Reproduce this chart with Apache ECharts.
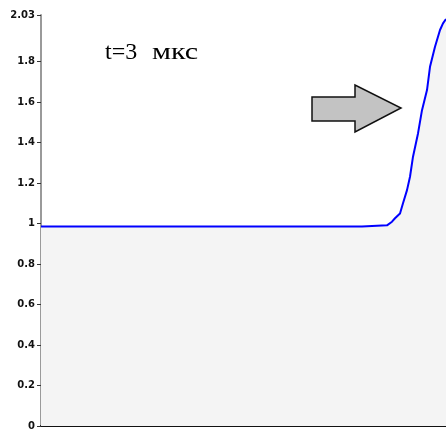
<!DOCTYPE html>
<html>
<head>
<meta charset="utf-8">
<script src="https://cdn.jsdelivr.net/npm/echarts@6/dist/echarts.min.js"></script>
<style>
  html, body { margin: 0; padding: 0; background: #fff; }
  #chart { width: 446px; height: 435px; }
</style>
</head>
<body>
<div id="chart"></div>
<script>
// Profile position (arbitrary units along the axis) and normalised amplitude
const positions = [0, 32.1, 32.3, 34.6, 35.1, 35.4, 35.9, 36.2, 36.6, 36.9, 37.2, 37.7, 38.1, 38.6, 38.9, 39.4, 39.9, 40.2, 40.5];
const amplitude = [0.985, 0.985, 0.991, 0.991, 1.009, 1.026, 1.050, 1.100, 1.165, 1.231, 1.330, 1.445, 1.560, 1.659, 1.774, 1.873, 1.956, 1.989, 2.010];
const yTicks = [0, 0.2, 0.4, 0.6, 0.8, 1, 1.2, 1.4, 1.6, 1.8, 2.03];
// Time stamp caption: value and unit
const captionTime = 't=3';
const captionUnit = 'мкс';

const chart = echarts.init(document.getElementById('chart'), null, { renderer: 'canvas' });

chart.setOption({
  animation: false,
  backgroundColor: '#ffffff',
  grid: { left: 41, right: 0, top: 15, bottom: 9, containLabel: false },
  xAxis: {
    type: 'value',
    min: 0,
    max: 40.5,
    axisLine: { show: true, lineStyle: { color: '#111', width: 2 } },
    axisTick: { show: false },
    axisLabel: { show: false },
    splitLine: { show: false }
  },
  yAxis: {
    type: 'value',
    min: 0,
    max: 2.03,
    axisLine: { show: true, lineStyle: { color: '#9a9a9a', width: 2 } },
    axisTick: {
      show: true, length: 4, inside: false,
      customValues: yTicks,
      lineStyle: { color: '#333', width: 1 }
    },
    axisLabel: {
      customValues: yTicks,
      margin: 6,
      fontFamily: 'DejaVu Sans',
      fontSize: 10,
      fontWeight: 'bold',
      color: '#111',
      formatter: v => String(v)
    },
    splitLine: { show: false }
  },
  series: [{
    type: 'line',
    data: positions.map((x, i) => [x, amplitude[i]]),
    showSymbol: false,
    smooth: false,
    lineStyle: { color: '#0000ff', width: 2 },
    areaStyle: { color: '#f4f4f4', opacity: 1 },
    z: 2
  }],
  graphic: [{
    type: 'text',
    x: 105,
    y: 41,
    style: {
      text: captionTime,
      font: '24px "Liberation Serif"',
      fill: '#000'
    },
    z: 10
  }, {
    type: 'text',
    x: 152,
    y: 41,
    scaleX: 1.25,
    style: {
      text: captionUnit,
      font: '24px "Liberation Serif"',
      fill: '#000'
    },
    z: 10
  }, {
    type: 'polygon',
    shape: {
      points: [[312, 97], [355, 97], [355, 85], [401, 108], [355, 132], [355, 121], [312, 121]]
    },
    style: { fill: '#c3c3c3', stroke: '#111', lineWidth: 1.5 },
    z: 10
  }]
});
</script>
</body>
</html>
